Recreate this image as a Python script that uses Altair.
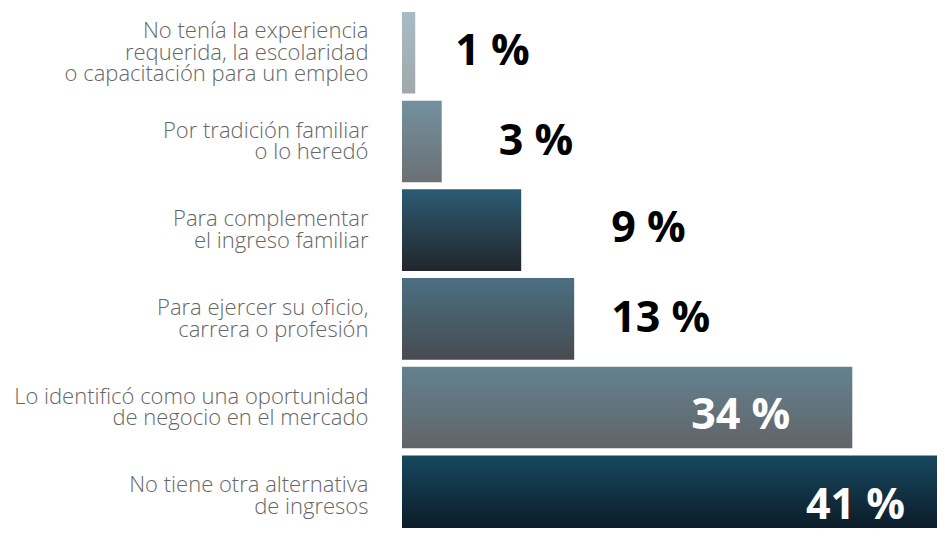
import altair as alt
import pandas as pd

categories = [
    "No tenía la experiencia\nrequerida, la escolaridad\no capacitación para un empleo",
    "Por tradición familiar\no lo heredó",
    "Para complementar\nel ingreso familiar",
    "Para ejercer su oficio,\ncarrera o profesión",
    "Lo identificó como una oportunidad\nde negocio en el mercado",
    "No tiene otra alternativa\nde ingresos",
]
values = [1, 3, 9, 13, 34, 41]
value_labels = ["1 %", "3 %", "9 %", "13 %", "34 %", "41 %"]

# styles
grad_top = ["#a8bcc6", "#7391a0", "#2d5b72", "#4b6f82", "#638291", "#174860"]
grad_bottom = ["#a0a8ac", "#6b7074", "#22262c", "#474b50", "#616467", "#0b1722"]
label_color = ["#000000", "#000000", "#000000", "#000000", "#ffffff", "#ffffff"]
label_align = ["left", "left", "left", "left", "right", "right"]
label_dx = [40, 57, 90, 37, -62, -40]
label_dy = [-1, 1, -1, 0, 8, 10]

df = pd.DataFrame({
    "idx": list(range(len(categories))),
    "cat": categories,
    "value": values,
    "label": value_labels,
})

y_enc = alt.Y(
    "cat:N",
    scale=alt.Scale(domain=categories, paddingInner=0.08, paddingOuter=0,
                    range=[0, 525]),
    axis=alt.Axis(
        title=None,
        labelExpr="split(datum.label, '\\n')",
        domain=False,
        ticks=False,
        labelPadding=34,
        labelLimit=0,
        labelFont="Open Sans",
        labelFontSize=22,
        labelFontWeight=300,
        labelColor="#666666",
        labelLineHeight=21.5,
        labelAlign="right",
        labelBaseline="middle",
        labelOffset={
            "condition": {
                "test": "length(split(datum.label, '\\n')) >= 3",
                "value": -21.5,
            },
            "value": -10.75,
        },
    ),
)
x_enc = alt.X(
    "value:Q",
    scale=alt.Scale(domain=[0, 41], nice=False, range=[0, 543]),
    axis=None,
)

layers = []
for i in range(len(categories)):
    grad = alt.Gradient(
        gradient="linear",
        stops=[
            alt.GradientStop(color=grad_top[i], offset=0),
            alt.GradientStop(color=grad_bottom[i], offset=1),
        ],
        x1=0, x2=0, y1=0, y2=1,
    )
    base = alt.Chart(df).transform_filter(alt.datum.idx == i)
    bar = base.mark_bar(color=grad, cornerRadius=0, clip=False).encode(x=x_enc, y=y_enc)
    txt = base.mark_text(
        font="Open Sans",
        fontWeight="bold",
        fontSize=43,
        color=label_color[i],
        align=label_align[i],
        baseline="middle",
        dx=label_dx[i],
        dy=label_dy[i],
    ).encode(x=x_enc, y=y_enc, text="label:N")
    layers += [bar, txt]

chart = alt.layer(*layers).properties(
    width=535,
    height=516,
    autosize=alt.AutoSizeParams(type="none"),
    padding={"left": 394, "top": 4, "right": 0, "bottom": 0},
    background="white",
).configure_view(strokeWidth=0)

chart.save("out.html", embed_options={"renderer": "svg", "actions": False})
